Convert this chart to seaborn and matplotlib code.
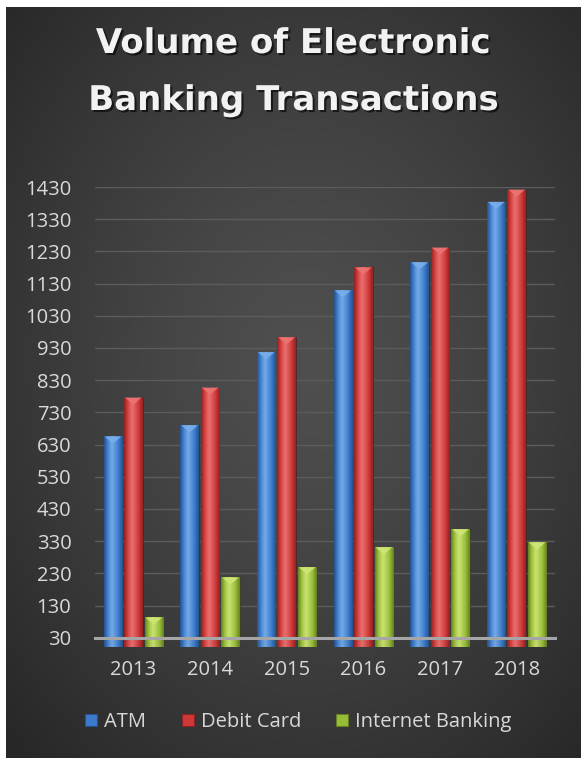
import numpy as np
import pandas as pd
import matplotlib
matplotlib.use("Agg")
import matplotlib.pyplot as plt
import matplotlib.colors as mcolors
import matplotlib.patheffects as pe
from matplotlib.patches import Polygon, Patch
import seaborn as sns

# ---- data ----
years = ["2013", "2014", "2015", "2016", "2017", "2018"]
atm = [655, 690, 917, 1109, 1196, 1384]
debit_card = [776, 807, 963, 1180, 1242, 1422]
internet_banking = [93, 217, 249, 311, 367, 326]
series = ["ATM", "Debit Card", "Internet Banking"]
yticks = list(range(30, 1431, 100))
title_lines = ["Volume of Electronic", "Banking Transactions"]

df = pd.DataFrame({
    "Year": years * 3,
    "Volume": atm + debit_card + internet_banking,
    "Series": [s for s in series for _ in years],
})

base_colors = {"ATM": "#3c7acb", "Debit Card": "#d03838", "Internet Banking": "#96bd38"}
dark_colors = {"ATM": "#24538f", "Debit Card": "#8f2222", "Internet Banking": "#667f22"}
light_colors = {"ATM": "#78aeea", "Debit Card": "#ec7474", "Internet Banking": "#cfe676"}

sns.set_theme(style="dark")
plt.rcParams["font.family"] = ["Open Sans", "DejaVu Sans"]

W, H = 581, 758
fig = plt.figure(figsize=(W / 100, H / 100), dpi=100, facecolor="white")

# background panel with radial gradient
bg = fig.add_axes([6 / W, 0, 1 - 6 / W, 1 - 7 / H])
bg.set_axis_off()
gh, gw = 300, 230
yy, xx = np.mgrid[0:gh, 0:gw]
r = np.sqrt(((xx - gw * 0.52) / gw) ** 2 + ((yy - gh * 0.47) / gh) ** 2)
r = np.clip(r / 0.72, 0, 1)
val = 0.31 - 0.155 * r ** 1.3
bg.imshow(np.dstack([val, val, val]), extent=[0, 1, 0, 1], aspect="auto", interpolation="bicubic")
bg.set_xlim(0, 1)
bg.set_ylim(0, 1)

# main axes
ax_l, ax_r, ax_t, ax_b = 95, 555, 187, 637.7
ax = fig.add_axes([ax_l / W, 1 - ax_b / H, (ax_r - ax_l) / W, (ax_b - ax_t) / H])
ax.set_facecolor("none")

sns.barplot(data=df, x="Year", y="Volume", hue="Series", palette=base_colors,
            width=0.8, gap=0.1, saturation=1, ax=ax, legend=False,
            edgecolor="#1a1a1a", linewidth=0.4, zorder=3)

ymin, ymax = 30, 1430
ax.set_ylim(ymin, ymax)
ax.set_yticks(yticks)
ax.set_xlim(-0.5, len(years) - 0.5)

# shading of bars
hue_of = []
for s in series:
    hue_of += [s] * len(years)
bars = [p for p in ax.patches if p.get_height() > 0]
px_per_unit = (ax_b - ax_t) / (ymax - ymin)
unit_per_px_x = len(years) / (ax_r - ax_l)
for p, s in zip(bars, hue_of):
    x0, w, h = p.get_x(), p.get_width(), p.get_height()
    cmap = mcolors.LinearSegmentedColormap.from_list(
        "g", [dark_colors[s], base_colors[s], light_colors[s], base_colors[s], dark_colors[s]])
    xs = np.linspace(0, 1, 64)
    vals = np.interp(xs, [0, 0.2, 0.42, 0.75, 1.0], [0.0, 0.3, 0.5, 0.72, 1.0])
    img = cmap(vals)[None, :, :]
    im = ax.imshow(img, extent=[x0, x0 + w, 0, h], aspect="auto", zorder=3.5,
                   interpolation="bicubic", alpha=0.95)
    im.set_clip_path(p)
    # top bevel triangle
    w_px = w / unit_per_px_x
    depth = 0.38 * w_px / px_per_unit
    tri = Polygon([(x0 + 0.04 * w, h), (x0 + 0.96 * w, h), (x0 + w / 2, h - depth)],
                  closed=True, facecolor=light_colors[s], edgecolor="none", zorder=4, alpha=0.9)
    ax.add_patch(tri)
ax.set_ylim(ymin, ymax)
ax.set_xlim(-0.5, len(years) - 0.5)

# grid and spines
ax.grid(axis="y", color="#5c5c5c", linewidth=1.0, zorder=0)
ax.grid(axis="x", visible=False)
for sp in ["top", "right", "left"]:
    ax.spines[sp].set_visible(False)
ax.spines["bottom"].set_color("#a6a6a6")
ax.spines["bottom"].set_linewidth(2.2)
ax.spines["bottom"].set_zorder(5)
ax.set_xlabel("")
ax.set_ylabel("")
ax.tick_params(axis="y", length=0, pad=17, labelsize=14.5, labelcolor="#d9d9d9")
ax.tick_params(axis="x", length=0, pad=16, labelsize=14.5, labelcolor="#d9d9d9")

# title
shadow = [pe.withSimplePatchShadow(offset=(1.5, -1.5), shadow_rgbFace="black", alpha=0.6)]
for txt, yb in zip(title_lines, [53, 110]):
    fig.text(0.5 + 3 / W, 1 - yb / H, txt, ha="center", va="baseline", color="#f2f2f2",
             fontsize=24.5, fontweight="bold", family=["DejaVu Sans"], path_effects=shadow)

# legend
handles = [Patch(facecolor=base_colors[s], edgecolor=dark_colors[s], linewidth=0.8, label=s) for s in series]
leg = fig.legend(handles=handles, loc="center", bbox_to_anchor=(298.5 / W, 1 - 722 / H), ncol=3,
                 frameon=False, fontsize=14.5, handlelength=0.6, handleheight=0.6,
                 handletextpad=0.35, columnspacing=1.75)
for t in leg.get_texts():
    t.set_color("#d9d9d9")

fig.savefig("out.png", dpi=100, facecolor="white")
